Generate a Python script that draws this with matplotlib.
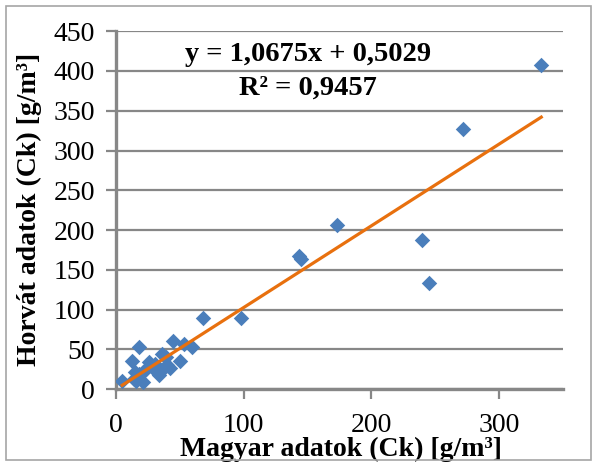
import numpy as np
import matplotlib
matplotlib.use("Agg")
import matplotlib.pyplot as plt
from matplotlib.patches import Rectangle

# Magyar (x) vs Horvát (y) adatok, Ck [g/m3] – leolvasva az ábráról
magyar = [5, 13, 14, 15, 16, 18, 18.5, 21, 21, 24, 26, 28, 30, 31, 34, 36.5,
          38, 39, 40, 42.5, 45, 50, 53, 60, 68, 98, 143, 145, 173, 240, 245,
          272, 333]
horvat = [10.5, 35, 12.5, 21, 10, 52.5, 19, 9, 21, 25, 33.5, 28, 25, 31, 18, 44,
          27, 40, 30, 26.5, 60, 35, 57, 52.5, 90, 90, 167, 163, 206, 188, 133,
          327, 407]

eq_text = "y = 1,0675x + 0,5029"
r2_text = "R² = 0,9457"

x_ticks = [0, 100, 200, 300]
y_ticks = list(range(0, 451, 50))

plt.rcParams["font.family"] = ["Liberation Serif", "DejaVu Serif"]

fig = plt.figure(figsize=(5.97, 4.66), dpi=100)
ax = fig.add_axes([0.194, 0.165, 0.749, 0.768])

grid_c = "#878787"
ax.set_xlim(0, 350)
ax.set_ylim(0, 450)
ax.set_xticks(x_ticks)
ax.set_yticks(y_ticks)
ax.yaxis.grid(True, color=grid_c, linewidth=1.6)
ax.set_axisbelow(True)
for s in ("top", "right"):
    ax.spines[s].set_visible(False)
for s in ("left", "bottom"):
    ax.spines[s].set_color(grid_c)
    ax.spines[s].set_linewidth(2.4)
ax.tick_params(axis="both", colors=grid_c, width=1.6, length=7,
               labelcolor="black", labelsize=20)
ax.tick_params(axis="y", pad=8)
ax.tick_params(axis="x", pad=10.5)

ax.scatter(magyar, horvat, marker="D", s=62, color="#4a7ebb", zorder=3,
           linewidths=0)

# lineáris trendvonal
k, b = np.polyfit(magyar, horvat, 1)
xs = np.array([min(magyar), max(magyar)])
ax.plot(xs, k * xs + b, color="#e8700e", linewidth=2.3, zorder=4)

ax.text(0.43, 0.934, eq_text, transform=ax.transAxes, ha="center",
        va="center", fontsize=20.5, fontweight="bold")
ax.text(0.43, 0.84, r2_text, transform=ax.transAxes, ha="center",
        va="center", fontsize=20.5, fontweight="bold")

ax.set_xlabel("Magyar adatok (Ck) [g/m³]", fontsize=20, fontweight="bold")
ax.xaxis.set_label_coords(0.503, -0.132)
ax.set_ylabel("Horvát adatok (Ck) [g/m³]", fontsize=20, fontweight="bold")
ax.yaxis.set_label_coords(-0.165, 0.503)

fig.patches.append(Rectangle((0.01, 0.012), 0.98, 0.976, transform=fig.transFigure,
                             fill=False, edgecolor="#a6a6a6", linewidth=1.2))

fig.savefig("out.png", dpi=100)
